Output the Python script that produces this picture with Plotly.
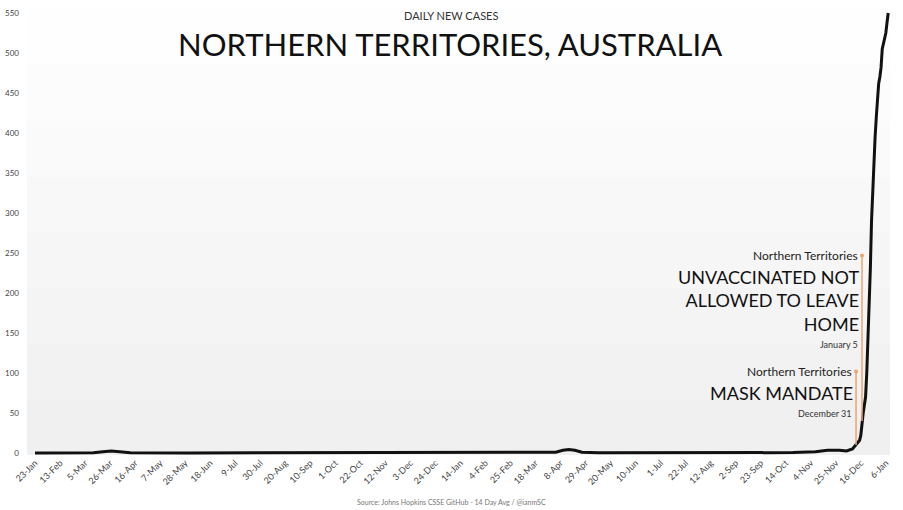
import plotly.graph_objects as go

# ---- data ----
case_dates = [
    "2020-01-23", "2020-03-12", "2020-03-20", "2020-03-27", "2020-04-03", "2020-04-12",
    "2020-06-01", "2020-11-15", "2020-12-20", "2021-01-10", "2021-01-25", "2021-03-20",
    "2021-04-04", "2021-04-10", "2021-04-15", "2021-04-20", "2021-04-26", "2021-05-10",
    "2021-08-15", "2021-10-20", "2021-11-08", "2021-11-18", "2021-11-28", "2021-12-04",
    "2021-12-09", "2021-12-12", "2021-12-15", "2021-12-16", "2021-12-17", "2021-12-18",
    "2021-12-19", "2021-12-20", "2021-12-21", "2021-12-22", "2021-12-23", "2021-12-24",
    "2021-12-25", "2021-12-26", "2021-12-27", "2021-12-28", "2021-12-29", "2021-12-30",
    "2021-12-31", "2022-01-01", "2022-01-02", "2022-01-03", "2022-01-04", "2022-01-05",
    "2022-01-06", "2022-01-07", "2022-01-08",
]
case_values = [
    0, 0.3, 1.5, 2.5, 1.5, 0.3,
    0, 0.2, 0.8, 1.2, 0.5, 0.4,
    1, 3.5, 4.5, 3.5, 1, 0.3,
    0.2, 0.5, 1.5, 3.5, 3.5, 2.5,
    5, 10, 16, 22, 40, 50,
    60, 70, 100, 140, 180, 230,
    290, 330, 365, 395, 420, 445,
    462, 470, 482, 505, 512, 520,
    525, 538, 550,
]

tick_dates = [
    "2020-01-23", "2020-02-13", "2020-03-05", "2020-03-26", "2020-04-16", "2020-05-07",
    "2020-05-28", "2020-06-18", "2020-07-09", "2020-07-30", "2020-08-20", "2020-09-10",
    "2020-10-01", "2020-10-22", "2020-11-12", "2020-12-03", "2020-12-24", "2021-01-14",
    "2021-02-04", "2021-02-25", "2021-03-18", "2021-04-08", "2021-04-29", "2021-05-20",
    "2021-06-10", "2021-07-01", "2021-07-22", "2021-08-12", "2021-09-02", "2021-09-23",
    "2021-10-14", "2021-11-04", "2021-11-25", "2021-12-16", "2022-01-06",
]
tick_labels = [
    "23-Jan", "13-Feb", "5-Mar", "26-Mar", "16-Apr", "7-May", "28-May", "18-Jun", "9-Jul",
    "30-Jul", "20-Aug", "10-Sep", "1-Oct", "22-Oct", "12-Nov", "3-Dec", "24-Dec", "14-Jan",
    "4-Feb", "25-Feb", "18-Mar", "8-Apr", "29-Apr", "20-May", "10-Jun", "1-Jul", "22-Jul",
    "12-Aug", "2-Sep", "23-Sep", "14-Oct", "4-Nov", "25-Nov", "16-Dec", "6-Jan",
]
y_ticks = [0, 50, 100, 150, 200, 250, 300, 350, 400, 450, 500, 550]

# event markers (date on chart axis, line bottom, line top)
event_dates = ["2021-12-12", "2021-12-17"]
event_bottom = [10, 40]
event_top = [102, 247]
event_titles = ["MASK MANDATE", "UNVACCINATED NOT<br>ALLOWED TO LEAVE<br>HOME"]
event_labels = ["December 31", "January 5"]
event_region = "Northern Territories"

FONT = "Lato"
ORANGE = "#F0A36E"

W, H = 903, 510
L, R, T, B = 27, 13, 9, 55
PW, PH = W - L - R, H - T - B


def px_x(p):
    return (p - L) / PW


def px_y(p):
    return (H - B - p) / PH


fig = go.Figure()

# gradient plot background (bands)
band_cols = ["#fefefe", "#fcfcfc", "#fafafa", "#f8f8f8", "#f6f6f6", "#f4f4f4", "#f2f2f2", "#f0f0f0"]
n = len(band_cols)
for i, c in enumerate(band_cols):
    fig.add_shape(type="rect", xref="x domain", yref="y domain",
                  x0=0, x1=1, y0=1 - (i + 1) / n, y1=1 - i / n,
                  fillcolor=c, line_width=0, layer="below")

fig.add_trace(go.Scatter(x=case_dates, y=case_values, mode="lines",
                         line=dict(color="#111111", width=3), hoverinfo="skip",
                         showlegend=False))

# event lines
for d, b, t in zip(event_dates, event_bottom, event_top):
    fig.add_trace(go.Scatter(x=[d, d], y=[b, t], mode="lines",
                             line=dict(color=ORANGE, width=1.5), showlegend=False,
                             hoverinfo="skip"))
    fig.add_trace(go.Scatter(x=[d], y=[t], mode="markers",
                             marker=dict(color=ORANGE, size=4), showlegend=False,
                             hoverinfo="skip"))

# event annotations
for d, t, title, lab, nlines in zip(event_dates, event_top, event_titles, event_labels, [1, 3]):
    fig.add_annotation(x=d, y=t, xanchor="right", yanchor="middle", xshift=-2,
                       text=event_region, showarrow=False,
                       font=dict(family=FONT, size=12, color="#222"))
    fig.add_annotation(x=d, y=t, xanchor="right", yanchor="top", xshift=-1, yshift=-9,
                       text=title, showarrow=False, align="right",
                       font=dict(family=FONT, size=18, color="#111"))
    fig.add_annotation(x=d, y=t, xanchor="right", yanchor="top", xshift=-2,
                       yshift=-9 - 23.5 * nlines - 2,
                       text=lab, showarrow=False,
                       font=dict(family=FONT, size=9, color="#333"))

# titles
fig.add_annotation(x=px_x(451), y=px_y(15), xref="paper", yref="paper", xanchor="center",
                   yanchor="middle", text="DAILY NEW CASES", showarrow=False,
                   font=dict(family=FONT, size=11, color="#333"))
fig.add_annotation(x=px_x(450), y=px_y(44), xref="paper", yref="paper", xanchor="center",
                   yanchor="middle", text="NORTHERN TERRITORIES, AUSTRALIA", showarrow=False,
                   font=dict(family=FONT, size=31, color="#111"))
fig.add_annotation(x=px_x(451), y=px_y(502), xref="paper", yref="paper", xanchor="center",
                   yanchor="middle",
                   text="Source: Johns Hopkins CSSE GitHub - 14 Day Avg / @ianmSC",
                   showarrow=False, font=dict(family=FONT, size=7, color="#777"))

fig.update_layout(
    width=W, height=H,
    margin=dict(l=L, r=R, t=T, b=B),
    paper_bgcolor="white", plot_bgcolor="white",
    xaxis=dict(type="date", range=["2020-01-16 07:00", "2022-01-09 12:00"],
               tickvals=tick_dates, ticktext=tick_labels, tickangle=-45,
               showgrid=False, zeroline=False, showline=False, ticks="",
               automargin=False,
               tickfont=dict(family=FONT, size=9, color="#444")),
    yaxis=dict(range=[-2.5, 555], tickvals=y_ticks, showgrid=False, zeroline=False,
               showline=False, ticks="", ticklabelstandoff=7, automargin=False,
               tickfont=dict(family=FONT, size=8, color="#444")),
)

fig.write_html("out.html", config={"displayModeBar": False},
               post_script="document.body.style.margin='0';document.body.style.overflow='hidden';")
